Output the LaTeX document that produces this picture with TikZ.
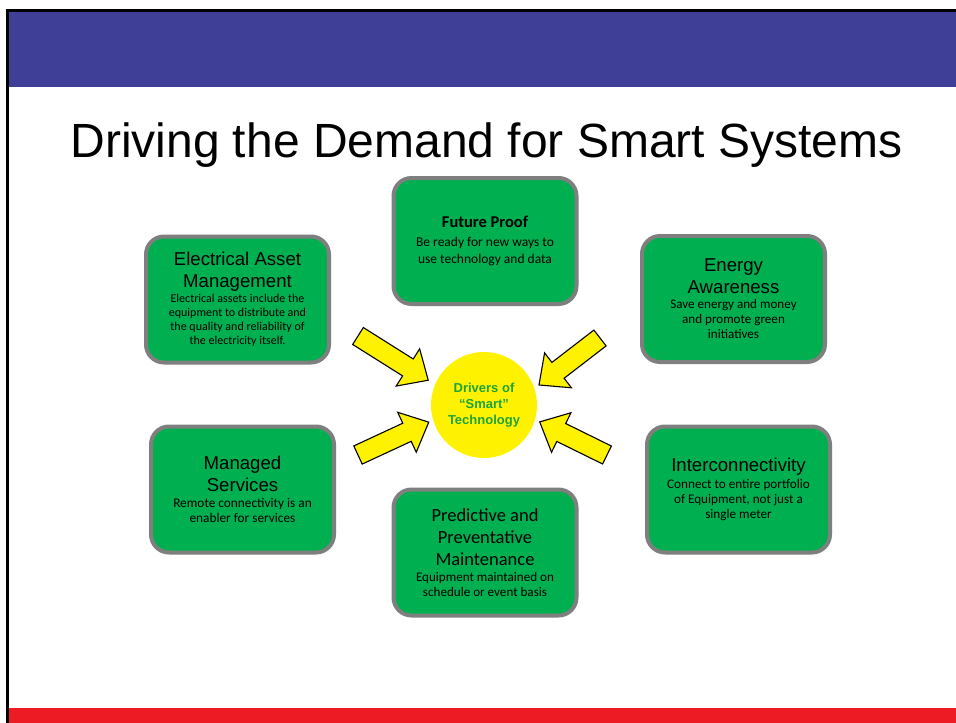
\documentclass[tikz,border=0pt]{standalone}
\usepackage{fontspec}
\setmainfont{Liberation Sans}
\newfontfamily\calfont{Carlito}
\definecolor{bandblue}{HTML}{3F3F98}
\definecolor{bandred}{HTML}{ED1C24}
\definecolor{boxgreen}{HTML}{00B050}
\definecolor{boxgray}{HTML}{7F7F7F}
\definecolor{drvgreen}{HTML}{1FA33A}
\newcommand\fT{\fontsize{18.6}{22}\selectfont}
\newcommand\fB[2]{\calfont\fontsize{#1}{#2}\selectfont}
\newcommand\cardtext[2]{\begin{minipage}{180pt}\centering {#1\par}{#2\par}\end{minipage}}
\newcommand\yarrow[3]{%
  \begin{scope}[shift={(#1)},rotate=#2]
    \filldraw[arrowbody] (0,-10) -- ({#3-24},-10) -- ({#3-24},-22) -- (#3,0)
      -- ({#3-24},22) -- ({#3-24},10) -- (0,10) -- cycle;
  \end{scope}}
\tikzset{
  card/.style={draw=boxgray, line width=4pt, fill=boxgreen, rounded corners=18pt,
    minimum width=183pt, minimum height=126pt, inner sep=0pt, text=black},
  arrowbody/.style={fill=yellow, draw=black, line width=1.1pt, line join=miter},
}
\begin{document}
\begin{tikzpicture}[x=1pt,y=-1pt]
\useasboundingbox (0,0) rectangle (956,723);
\fill[white] (0,0) rectangle (956,723);
% bands and frame
\fill[bandblue] (8,11) rectangle (956,87);
\fill[bandred] (8,708) rectangle (956,723);
\fill[black] (6,9) rectangle (956,11.5);
\fill[black] (6,9) rectangle (8.8,723);
% title
\node[anchor=base, inner sep=0pt] (title) at (486.5,157)
  {\fontsize{48}{56}\selectfont Driving the Demand for Smart Systems};
% cards
\node[card] (eam) at (237.5,299.5)
  {\cardtext{\fT Electrical Asset\\Management}{\fB{12}{14.2}Electrical assets include the\\equipment to distribute and\\the quality and reliability of\\the electricity itself.}};
\node[card] (fut) at (485,241)
  {\cardtext{\calfont\bfseries\fontsize{16.5}{20}\selectfont Future Proof}{\vspace{2pt}\fB{13.5}{17}Be ready for new ways to\\use technology and data}};
\node[card] (ene) at (733.5,299)
  {\cardtext{\fT Energy\\Awareness}{\fB{13.1}{15}Save energy and money\\and promote green\\initiatives}};
\node[card] (man) at (242.5,489.5)
  {\cardtext{\fT Managed\\Services}{\fB{13.3}{15.7}Remote connectivity is an\\enabler for services}};
\node[card] (pre) at (485,552.5)
  {\cardtext{\calfont\fontsize{18.5}{22}\selectfont Predictive and\\Preventative\\Maintenance}{\vspace{1pt}\fB{13.1}{15}Equipment maintained on\\schedule or event basis}};
\node[card] (int) at (738.5,489.5)
  {\cardtext{\fT Interconnectivity}{\vspace{2pt}\fB{13.2}{15}Connect to entire portfolio\\of Equipment, not just a\\single meter}};
% centre
\node[circle, fill=yellow, minimum size=106pt, inner sep=0pt, align=center,
  font=\bfseries\fontsize{13}{16}\selectfont, text=drvgreen] (drv) at (484,405)
  {Drivers of\\“Smart”\\Technology};
% arrows
\coordinate (t1) at (358,336);
\coordinate (t2) at (600,338);
\coordinate (t3) at (358,455);
\coordinate (t4) at (607,455);
\yarrow{t1}{-32.2}{83}
\yarrow{t2}{-142.4}{77}
\yarrow{t3}{24.9}{78}
\yarrow{t4}{153.8}{75}
\end{tikzpicture}
\end{document}
